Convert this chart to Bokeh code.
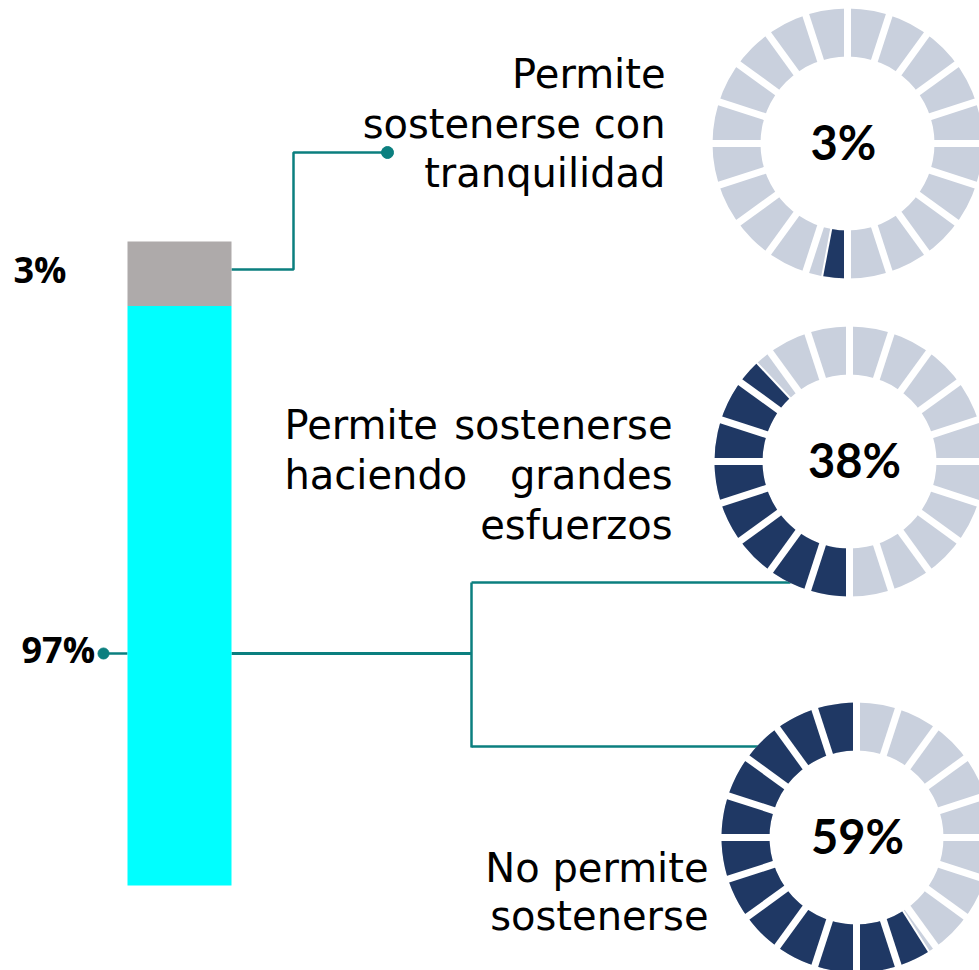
import numpy as np
from bokeh.plotting import figure
from bokeh.models import Range1d
from bokeh.embed import file_html
from bokeh.resources import INLINE
from bokeh.core.properties import value

# ---------------- data ----------------
bar_labels = ["97%", "3%"]
bar_values = [97, 3]          # stacked from bottom: cyan, gray
bar_colors = ["#00FFFF", "#AEAAAA"]
bar_axis_min = 70
bar_axis_max = 100

donut_values = [3, 38, 59]
donut_texts = ["3%", "38%", "59%"]
donut_label_lines = [
    ["Permite", "sostenerse con", "tranquilidad"],
    [["Permite", "sostenerse"], ["haciendo", "grandes"], ["esfuerzos"]],
    ["No permite", "sostenerse"],
]
N_SEGMENTS = 20

# ---------------- layout (reference pixel coords, y down) ----------------
W, H = 979, 970
def Y(ref_y):
    return H - ref_y  # flip: ref y down -> data y up

TEAL = "#0B7F7F"
LIGHT = "#C9D0DD"
DARK = "#1F3864"

p = figure(width=W, height=H, x_range=Range1d(0, W), y_range=Range1d(0, H),
           output_backend="svg", toolbar_location=None, min_border=0)
p.axis.visible = False
p.grid.visible = False
p.outline_line_color = None
p.background_fill_color = "white"
p.border_fill_color = "white"

# bar range: axis_min at ref y 885, axis_max at ref y 241
bar_bottom_px, bar_top_px = Y(885), Y(241)
ppu = (bar_top_px - bar_bottom_px) / (bar_axis_max - bar_axis_min)
p.extra_y_ranges = {"bar": Range1d(bar_axis_min - bar_bottom_px / ppu,
                                   bar_axis_max + (H - bar_top_px) / ppu)}

cum = np.cumsum(bar_values)
tops = list(cum)
bottoms = [max(bar_axis_min, c - v) for c, v in zip(cum, bar_values)]

# ---------------- connectors ----------------
conn_x = [
    [231, 293, 293, 387],
    [103, 127],
    [231, 471],
    [471, 471],
    [471, 790],
    [471, 762],
]
conn_y = [
    [269, 269, 152, 152],
    [653, 653],
    [653, 653],
    [582, 747],
    [582, 582],
    [746, 746],
]
conn_w = [2.5, 2.5, 3.2, 2.5, 2.5, 2.5]
for xs, ys, w in zip(conn_x, conn_y, conn_w):
    p.line(xs, [Y(v) for v in ys], line_color=TEAL, line_width=w)
p.scatter([387, 103], [Y(152), Y(653)], size=[12, 11], color=TEAL)

# ---------------- bar ----------------
p.vbar(x=[179, 179], width=104, bottom=bottoms, top=tops, fill_color=bar_colors,
       line_color=None, y_range_name="bar")

# text glyph baseline correction (text renders ~0.37em low)
def bl(ref_y, size):
    return Y(ref_y - 0.37 * size)

p.text([13, 21], [bl(282, 36), bl(662, 36)], text=[bar_labels[1], bar_labels[0]],
       text_font=value("Open Sans"), text_font_style="bold", text_font_size="36px",
       text_align="left", text_baseline="alphabetic", text_color="black")

# ---------------- donuts ----------------
centers = [(847, 143), (849, 461), (856, 837)]
text_dx = [-4, 5, 1]
r_out, r_in = 135, 87
start_compass = [180, 180, 360]
direction = [1, 1, -1]

for (cx, cy), v, s, d, t, dx in zip(centers, donut_values, start_compass, direction,
                                     donut_texts, text_dx):
    cyu = Y(cy)
    p.annular_wedge(x=[cx], y=[cyu], inner_radius=r_in, outer_radius=r_out,
                    start_angle=[0], end_angle=[2 * np.pi], fill_color=LIGHT, line_color=None)
    ca = s
    cb = s + d * v * 3.6
    c1, c2 = min(ca, cb), max(ca, cb)
    p.annular_wedge(x=[cx], y=[cyu], inner_radius=r_in, outer_radius=r_out,
                    start_angle=[np.deg2rad(90 - c2)], end_angle=[np.deg2rad(90 - c1)],
                    fill_color=DARK, line_color=None)
    # white separators between segments
    ang = np.deg2rad(np.arange(N_SEGMENTS) * 360.0 / N_SEGMENTS)
    p.segment(x0=cx + (r_in - 4) * np.sin(ang), y0=cyu + (r_in - 4) * np.cos(ang),
              x1=cx + (r_out + 4) * np.sin(ang), y1=cyu + (r_out + 4) * np.cos(ang),
              line_color="white", line_width=7)
    ae = np.deg2rad(cb)
    p.segment(x0=[cx + (r_in - 2) * np.sin(ae)], y0=[cyu + (r_in - 2) * np.cos(ae)],
              x1=[cx + (r_out + 2) * np.sin(ae)], y1=[cyu + (r_out + 2) * np.cos(ae)],
              line_color="white", line_width=2)
    p.text([cx + dx], [bl(cy + 16, 47)], text=[t], text_font=value("Lato"), text_font_style="bold",
           text_font_size="47px", text_align="center", text_baseline="alphabetic",
           text_color="black")

# ---------------- labels ----------------
FONT = value("DejaVu Sans")
l1 = donut_label_lines[0]
p.text([665] * 3, [bl(88, 40), bl(138, 40), bl(187, 40)], text=l1, text_font=FONT,
       text_font_size="40px", text_align="right", text_baseline="alphabetic", text_color="black")

l2 = donut_label_lines[1]
base2 = [439, 489, 539]
lx, ly, lt = [], [], []
rx, ry, rt = [], [], []
for words, b in zip(l2, base2):
    if len(words) == 2:
        lx.append(284); ly.append(bl(b, 40)); lt.append(words[0])
        rx.append(672); ry.append(bl(b, 40)); rt.append(words[1])
    else:
        rx.append(672); ry.append(bl(b, 40)); rt.append(words[0])
p.text(lx, ly, text=lt, text_font=FONT, text_font_size="40px", text_align="left",
       text_baseline="alphabetic", text_color="black")
p.text(rx, ry, text=rt, text_font=FONT, text_font_size="40px", text_align="right",
       text_baseline="alphabetic", text_color="black")

l3 = donut_label_lines[2]
p.text([708] * 2, [bl(882, 40), bl(930, 40)], text=l3, text_font=FONT, text_font_size="40px",
       text_align="right", text_baseline="alphabetic", text_color="black")

open("out.html", "w").write(file_html(p, INLINE))
